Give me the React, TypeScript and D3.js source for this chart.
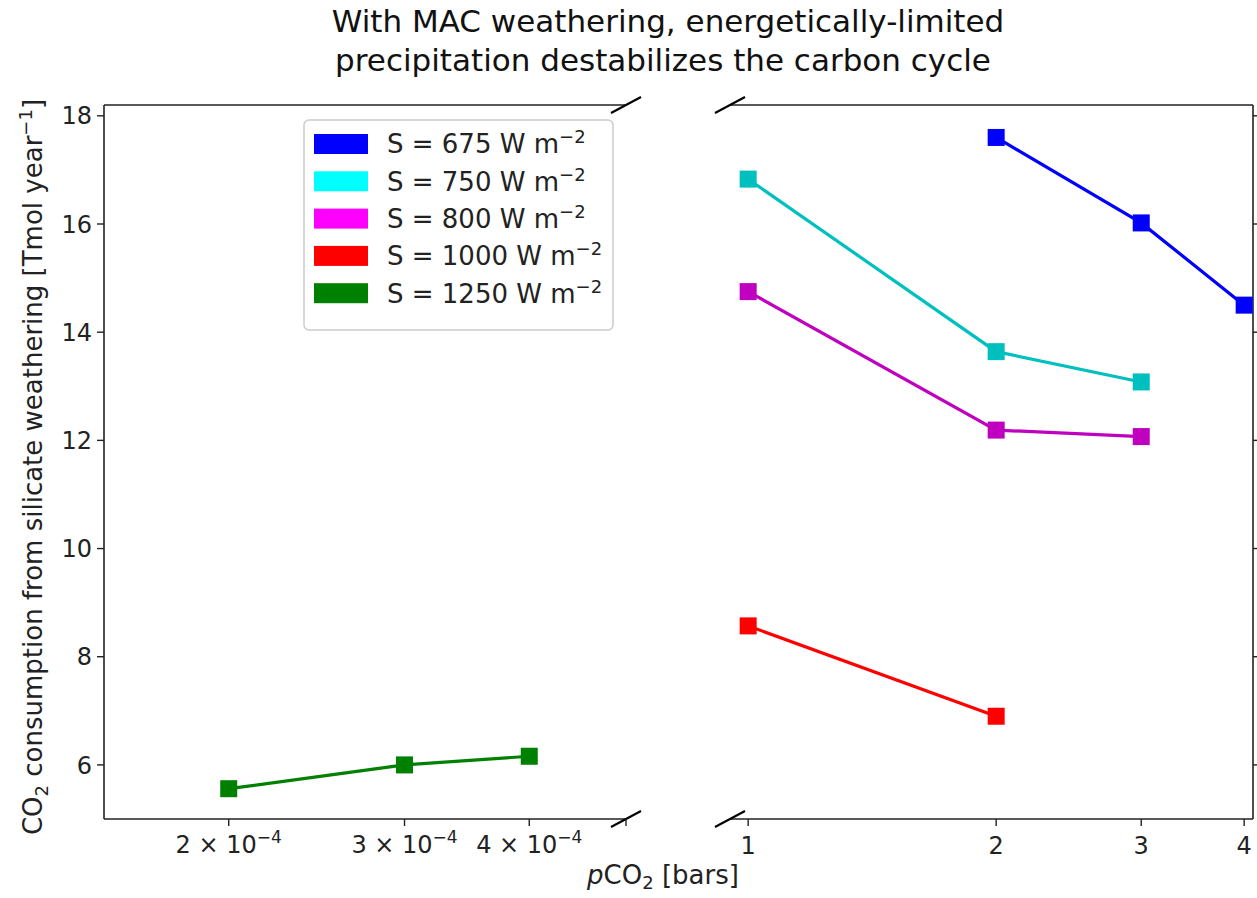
import React from "react";
import * as d3 from "d3";

const seriesLabels = ["675", "750", "800", "1000", "1250"];
const seriesColors = ["#0000ff", "#00bfbf", "#bf00bf", "#ff0000", "#008000"];
const legendColors = ["#0000ff", "#00ffff", "#ff00ff", "#ff0000", "#008000"];

// right panel (bars)
const s675 = [
  { x: 2, y: 17.6 },
  { x: 3, y: 16.02 },
  { x: 4, y: 14.5 },
];
const s750 = [
  { x: 1, y: 16.83 },
  { x: 2, y: 13.64 },
  { x: 3, y: 13.08 },
];
const s800 = [
  { x: 1, y: 14.75 },
  { x: 2, y: 12.19 },
  { x: 3, y: 12.07 },
];
const s1000 = [
  { x: 1, y: 8.57 },
  { x: 2, y: 6.9 },
];
// left panel
const s1250 = [
  { x: 2e-4, y: 5.56 },
  { x: 3e-4, y: 6.0 },
  { x: 4e-4, y: 6.16 },
];

const yTicks = [6, 8, 10, 12, 14, 16, 18];
const leftXTicks = [2e-4, 3e-4, 4e-4, 5e-4];
const leftXTickLabels = ["2", "3", "4", ""];
const rightXTicks = [1, 2, 3, 4];

const W = 1257;
const H = 898;
const top = 105;
const bottom = 819;
const lx0 = 104;
const lx1 = 626;
const rx0 = 730;
const rx1 = 1253;

const FONT = "DejaVu Sans, sans-serif";

export default function App() {
  const y = d3.scaleLinear().domain([5, 18.2]).range([bottom, top]);
  const xl = d3.scaleLog().domain([1.5e-4, 5e-4]).range([lx0, lx1]);
  const xr = d3.scaleLog().domain([0.9505, 4.1]).range([rx0, rx1]);

  const rightSeries = [s675, s750, s800, s1000];
  const lineR = d3
    .line<{ x: number; y: number }>()
    .x((d) => xr(d.x))
    .y((d) => y(d.y));
  const lineL = d3
    .line<{ x: number; y: number }>()
    .x((d) => xl(d.x))
    .y((d) => y(d.y));

  const ms = 17;
  const tickFs = 24;
  const labFs = 26;
  const breakMark = (cx: number, cy: number, key: string) => (
    <line
      key={key}
      x1={cx - 15}
      y1={cy + 8}
      x2={cx + 15}
      y2={cy - 8}
      stroke="#000"
      strokeWidth={2}
    />
  );

  return (
    <svg
      width={W}
      height={H}
      style={{ position: "absolute", left: 0, top: 0, background: "#fff" }}
      fontFamily={FONT}
    >
      <rect width={W} height={H} fill="#fff" />
      {/* title */}
      <text x={668} y={32} textAnchor="middle" fontSize={31} fill="#111">
        With MAC weathering, energetically-limited
      </text>
      <text x={663} y={71} textAnchor="middle" fontSize={31} fill="#111">
        precipitation destabilizes the carbon cycle
      </text>

      {/* spines */}
      <g stroke="#222" strokeWidth={1.6} fill="none">
        <line x1={lx0} y1={top} x2={lx1} y2={top} />
        <line x1={lx0} y1={bottom} x2={lx1} y2={bottom} />
        <line x1={lx0} y1={top} x2={lx0} y2={bottom} />
        <line x1={rx0} y1={top} x2={rx1} y2={top} />
        <line x1={rx0} y1={bottom} x2={rx1} y2={bottom} />
        <line x1={rx1} y1={top} x2={rx1} y2={bottom} />
      </g>
      {breakMark(lx1, top, "b1")}
      {breakMark(lx1, bottom, "b2")}
      {breakMark(rx0, top, "b3")}
      {breakMark(rx0, bottom, "b4")}

      {/* y ticks */}
      {yTicks.map((t) => (
        <g key={"yt" + t}>
          <line x1={lx0 - 7} x2={lx0} y1={y(t)} y2={y(t)} stroke="#222" strokeWidth={1.4} />
          <line x1={rx1} x2={rx1 + 7} y1={y(t)} y2={y(t)} stroke="#222" strokeWidth={1.4} />
          <text x={lx0 - 12} y={y(t)} dy="0.36em" textAnchor="end" fontSize={tickFs} fill="#222">
            {t}
          </text>
        </g>
      ))}

      {/* left x ticks */}
      {leftXTicks.map((t, i) => (
        <g key={"lx" + i}>
          <line x1={xl(t)} x2={xl(t)} y1={bottom} y2={bottom + 7} stroke="#222" strokeWidth={1.4} />
          {leftXTickLabels[i] !== "" && (
            <text x={xl(t)} y={bottom + 34} textAnchor="middle" fontSize={tickFs} fill="#222">
              {leftXTickLabels[i]} × 10
              <tspan dy="-10" fontSize={17}>
                −4
              </tspan>
            </text>
          )}
        </g>
      ))}
      {/* right x ticks */}
      {rightXTicks.map((t) => (
        <g key={"rx" + t}>
          <line x1={xr(t)} x2={xr(t)} y1={bottom} y2={bottom + 7} stroke="#222" strokeWidth={1.4} />
          <text x={xr(t)} y={bottom + 35} textAnchor="middle" fontSize={tickFs} fill="#222">
            {t}
          </text>
        </g>
      ))}

      {/* axis labels */}
      <text x={663} y={884} textAnchor="middle" fontSize={labFs} fill="#222">
        <tspan fontStyle="italic">p</tspan>CO
        <tspan dy="5" fontSize={18}>2</tspan>
        <tspan dy="-5"> [bars]</tspan>
      </text>
      <text
        transform={`translate(42, 467) rotate(-90)`}
        textAnchor="middle"
        fontSize={labFs}
        fill="#222"
      >
        CO<tspan dy="6" fontSize={18}>2</tspan>
        <tspan dy="-6"> consumption from silicate weathering [Tmol year</tspan>
        <tspan dy="-10" fontSize={18}>−1</tspan>
        <tspan dy="10">]</tspan>
      </text>

      {/* right series */}
      {rightSeries.map((s, i) => (
        <g key={"rs" + i}>
          <path d={lineR(s) || ""} fill="none" stroke={seriesColors[i]} strokeWidth={3.2} />
          {s.map((d, j) => (
            <rect
              key={j}
              x={xr(d.x) - ms / 2}
              y={y(d.y) - ms / 2}
              width={ms}
              height={ms}
              fill={seriesColors[i]}
            />
          ))}
        </g>
      ))}
      {/* left series */}
      <g>
        <path d={lineL(s1250) || ""} fill="none" stroke={seriesColors[4]} strokeWidth={3.2} />
        {s1250.map((d, j) => (
          <rect
            key={j}
            x={xl(d.x) - ms / 2}
            y={y(d.y) - ms / 2}
            width={ms}
            height={ms}
            fill={seriesColors[4]}
          />
        ))}
      </g>

      {/* legend */}
      <g>
        <rect x={304} y={120} width={309} height={210} rx={5} fill="#fff" stroke="#ccc" strokeWidth={1.5} />
        {seriesLabels.map((lab, i) => {
          const cy = 144 + i * 37.3;
          return (
            <g key={"lg" + i}>
              <rect x={314} y={cy - 10} width={54} height={20} fill={legendColors[i]} />
              <text x={387} y={cy} dy="0.36em" fontSize={labFs} fill="#222">
                S = {lab} W m
                <tspan dy="-10" fontSize={18}>−2</tspan>
              </text>
            </g>
          );
        })}
      </g>
    </svg>
  );
}
